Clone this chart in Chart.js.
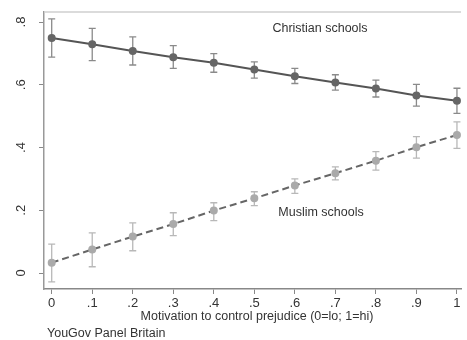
<!DOCTYPE html>
<html>
<head>
<meta charset="utf-8">
<script src="https://cdn.jsdelivr.net/npm/chart.js@4"></script>
<style>
  html, body { margin: 0; padding: 0; background: #fff; }
  #wrap { width: 467px; height: 340px; }
</style>
</head>
<body>
<div id="wrap"><canvas id="myChart"></canvas></div>
<script>
const xValues = [0, 0.1, 0.2, 0.3, 0.4, 0.5, 0.6, 0.7, 0.8, 0.9, 1];
const christian = [0.749, 0.729, 0.708, 0.688, 0.670, 0.649, 0.627, 0.607, 0.588, 0.566, 0.549];
const christianLo = [0.688, 0.677, 0.663, 0.652, 0.640, 0.621, 0.604, 0.583, 0.561, 0.532, 0.509];
const christianHi = [0.810, 0.780, 0.753, 0.725, 0.699, 0.673, 0.652, 0.632, 0.615, 0.601, 0.589];
const muslim = [0.033, 0.075, 0.116, 0.156, 0.199, 0.238, 0.279, 0.318, 0.358, 0.401, 0.440];
const muslimLo = [-0.028, 0.020, 0.071, 0.119, 0.167, 0.215, 0.254, 0.297, 0.328, 0.366, 0.397];
const muslimHi = [0.092, 0.128, 0.160, 0.192, 0.224, 0.259, 0.300, 0.338, 0.387, 0.435, 0.482];
const xTicks = [0, 0.1, 0.2, 0.3, 0.4, 0.5, 0.6, 0.7, 0.8, 0.9, 1];
const yTicks = [0, 0.2, 0.4, 0.6, 0.8];

const font = "Liberation Sans, Arial, sans-serif";

function fmt(v) {
  if (v === 0) return "0";
  if (v === 1) return "1";
  return v.toFixed(1).replace("0.", ".");
}

const toPoints = (ys) => ys.map((y, i) => ({ x: xValues[i], y: y }));

// error bars, rotated y labels and text annotations
const extras = {
  id: "extras",
  beforeDatasetsDraw: (chart) => {
    const { ctx, scales } = chart;
    const bars = [
      { lo: christianLo, hi: christianHi, color: "#8a8a8a" },
      { lo: muslimLo, hi: muslimHi, color: "#b8b8b8" },
    ];
    ctx.save();
    ctx.lineWidth = 1.3;
    bars.forEach((b) => {
      ctx.strokeStyle = b.color;
      xValues.forEach((xv, i) => {
        const x = scales.x.getPixelForValue(xv);
        const y1 = scales.y.getPixelForValue(b.lo[i]);
        const y2 = scales.y.getPixelForValue(b.hi[i]);
        ctx.beginPath();
        ctx.moveTo(x, y1); ctx.lineTo(x, y2);
        ctx.moveTo(x - 3.5, y1); ctx.lineTo(x + 3.5, y1);
        ctx.moveTo(x - 3.5, y2); ctx.lineTo(x + 3.5, y2);
        ctx.stroke();
      });
    });
    ctx.restore();
  },
  afterDraw: (chart) => {
    const { ctx, scales, chartArea } = chart;
    ctx.save();
    // plot box top line
    ctx.strokeStyle = "#cfcfcf";
    ctx.lineWidth = 1.5;
    ctx.beginPath();
    ctx.moveTo(chartArea.left, chartArea.top);
    ctx.lineTo(chartArea.right, chartArea.top);
    ctx.stroke();

    ctx.fillStyle = "#333";
    ctx.font = "13px " + font;
    ctx.textAlign = "center";
    ctx.textBaseline = "middle";
    yTicks.forEach((v) => {
      const y = scales.y.getPixelForValue(v);
      ctx.save();
      ctx.translate(21, y);
      ctx.rotate(-Math.PI / 2);
      ctx.fillText(fmt(v), 0, 0);
      ctx.restore();
    });

    ctx.font = "12.5px " + font;
    ctx.fillText("Motivation to control prejudice (0=lo; 1=hi)", 257, 317);
    ctx.fillText("Christian schools", 320, 29);
    ctx.fillText("Muslim schools", 321, 213);
    ctx.textAlign = "left";
    ctx.fillText("YouGov Panel Britain", 47, 334);
    ctx.restore();
  },
};

const config = {
  type: "line",
  data: {
    datasets: [
      {
        label: "Christian schools",
        data: toPoints(christian),
        borderColor: "#555",
        borderWidth: 2,
        pointBackgroundColor: "#666",
        pointBorderColor: "#666",
        pointRadius: 3,
        tension: 0,
      },
      {
        label: "Muslim schools",
        data: toPoints(muslim),
        borderColor: "#666",
        borderWidth: 2,
        borderDash: [7, 4],
        pointBackgroundColor: "#aaa",
        pointBorderColor: "#aaa",
        pointRadius: 3,
        tension: 0,
      },
    ],
  },
  plugins: [extras],
  options: {
    responsive: true,
    maintainAspectRatio: false,
    animation: false,
    layout: { padding: { top: 12, right: 0, left: 0, bottom: 0 } },
    plugins: {
      legend: { display: false },
      tooltip: { enabled: false },
    },
    scales: {
      x: {
        type: "linear",
        min: -0.019,
        max: 1.01,
        afterBuildTicks: (s) => { s.ticks = xTicks.map((v) => ({ value: v })); },
        afterFit: (s) => { s.height = 51; },
        grid: { drawOnChartArea: false, drawTicks: true, tickLength: 5, color: "#888" },
        border: { color: "#888", width: 1.5 },
        ticks: {
          color: "#333",
          font: { family: font, size: 13 },
          padding: 2,
          maxRotation: 0,
          callback: (v) => fmt(v),
        },
      },
      y: {
        min: -0.051,
        max: 0.832,
        afterBuildTicks: (s) => { s.ticks = yTicks.map((v) => ({ value: v })); },
        afterFit: (s) => { s.width = 44; },
        grid: { drawOnChartArea: false, drawTicks: true, tickLength: 5, color: "#888" },
        border: { color: "#999", width: 1.5 },
        ticks: { display: false },
      },
    },
  },
};

var myChart = new Chart(document.getElementById("myChart"), config);
</script>
</body>
</html>
